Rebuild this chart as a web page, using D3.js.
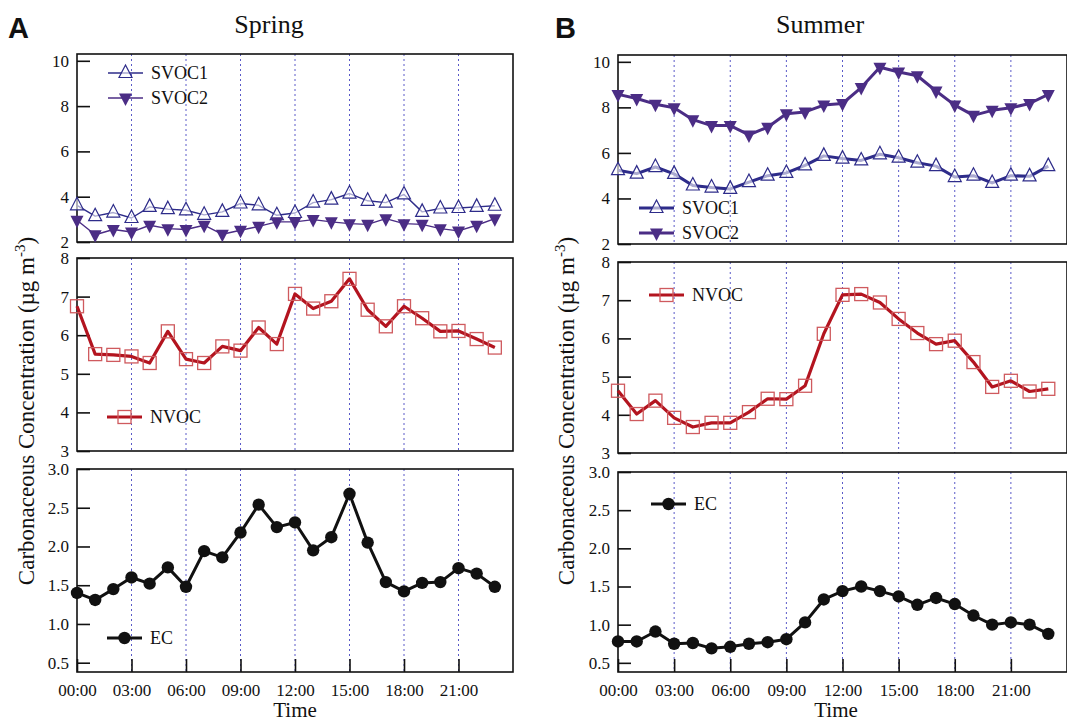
<!DOCTYPE html>
<html>
<head>
<meta charset="utf-8">
<script src="https://cdn.jsdelivr.net/npm/d3@7"></script>
<style>
  body { margin: 0; background: #fff; }
</style>
</head>
<body>
<div id="chart"></div>
<script>
// hours of the day (x categories) and tick labels
var hours = d3.range(24);
var timeTicks = [0, 3, 6, 9, 12, 15, 18, 21];
var timeLabels = ["00:00", "03:00", "06:00", "09:00", "12:00", "15:00", "18:00", "21:00"];

// Spring (A)
var springSVOC1 = [3.62, 3.14, 3.3, 3.06, 3.55, 3.45, 3.4, 3.2, 3.33, 3.7, 3.62, 3.18,
                   3.28, 3.74, 3.87, 4.14, 3.82, 3.74, 4.1, 3.33, 3.48, 3.5, 3.55, 3.6];
var springSVOC2 = [2.96, 2.32, 2.55, 2.44, 2.74, 2.59, 2.55, 2.74, 2.34, 2.52, 2.69, 2.89,
                   2.89, 2.99, 2.89, 2.81, 2.78, 3.03, 2.81, 2.78, 2.59, 2.49, 2.74, 3.03];
var springNVOC = [6.75, 5.51, 5.49, 5.45, 5.28, 6.1, 5.38, 5.28, 5.71, 5.6, 6.2, 5.77,
                  7.07, 6.69, 6.88, 7.46, 6.66, 6.23, 6.75, 6.44, 6.1, 6.11, 5.9, 5.68];
var springEC = [1.40, 1.31, 1.45, 1.60, 1.52, 1.73, 1.48, 1.94, 1.86, 2.18, 2.54, 2.25,
                2.31, 1.95, 2.12, 2.68, 2.05, 1.54, 1.42, 1.53, 1.54, 1.72, 1.65, 1.48];

// Summer (B)
var summerSVOC1 = [5.24, 5.09, 5.38, 5.08, 4.57, 4.48, 4.42, 4.72, 5.0, 5.12, 5.45, 5.87,
                   5.75, 5.67, 5.94, 5.79, 5.57, 5.42, 4.94, 5.0, 4.68, 5.0, 4.97, 5.42];
var summerSVOC2 = [8.57, 8.39, 8.14, 7.98, 7.46, 7.2, 7.2, 6.79, 7.13, 7.72, 7.8, 8.1,
                   8.17, 8.87, 9.76, 9.55, 9.39, 8.72, 8.1, 7.65, 7.87, 7.98, 8.17, 8.57];
var summerNVOC = [4.63, 4.02, 4.37, 3.92, 3.68, 3.79, 3.79, 4.07, 4.42, 4.41, 4.76, 6.12,
                  7.14, 7.16, 6.94, 6.51, 6.14, 5.85, 5.94, 5.38, 4.73, 4.89, 4.61, 4.68];
var summerEC = [0.78, 0.78, 0.91, 0.75, 0.76, 0.69, 0.71, 0.75, 0.77, 0.81, 1.03, 1.33,
                1.44, 1.50, 1.44, 1.37, 1.26, 1.35, 1.27, 1.12, 1.0, 1.03, 1.0, 0.88];

var svocTicks = [2, 4, 6, 8, 10];
var nvocTicks = [3, 4, 5, 6, 7, 8];
var ecTicks = [0.5, 1.0, 1.5, 2.0, 2.5, 3.0];

var width = 1067, height = 724;
var serif = "'Liberation Serif', 'Times New Roman', serif";

var svg = d3.select("#chart").append("svg")
  .attr("width", width)
  .attr("height", height);

// panel layout
var panels = [
  {
    letter: "A", title: "Spring", x0: 77, x1: 513, letterX: 8, titleX: 269, labelX: 34,
    rows: [[54, 242], [258, 451], [469, 672]],
    svoc1: springSVOC1, svoc2: springSVOC2, nvoc: springNVOC, ec: springEC,
    svocWidth: 1.4,
    legends: [
      {key: "svoc1", x: 108, y: 73}, {key: "svoc2", x: 108, y: 98},
      {key: "nvoc", x: 107, y: 417},
      {key: "ec", x: 107, y: 638}
    ]
  },
  {
    letter: "B", title: "Summer", x0: 618, x1: 1067, letterX: 555, titleX: 820, labelX: 574,
    rows: [[55, 244], [262, 453], [472, 672]],
    svoc1: summerSVOC1, svoc2: summerSVOC2, nvoc: summerNVOC, ec: summerEC,
    svocWidth: 3,
    legends: [
      {key: "svoc1", x: 639, y: 208}, {key: "svoc2", x: 639, y: 233},
      {key: "nvoc", x: 649, y: 295},
      {key: "ec", x: 651, y: 504}
    ]
  }
];

var styles = {
  svoc1: {label: "SVOC1", color: "#2e2c8a", marker: "triUp"},
  svoc2: {label: "SVOC2", color: "#4b2d85", marker: "triDown"},
  nvoc: {label: "NVOC", color: "#b3141f", marker: "square"},
  ec: {label: "EC", color: "#111111", marker: "circle"}
};

function drawMarker(g, type, color, cx, cy) {
  if (type === "circle") {
    g.append("circle").attr("cx", cx).attr("cy", cy).attr("r", 6.2).attr("fill", color);
  } else if (type === "square") {
    g.append("rect").attr("x", cx - 6.5).attr("y", cy - 6.5)
      .attr("width", 13).attr("height", 13)
      .attr("fill", "none").attr("stroke", "#cf5a5e").attr("stroke-width", 1.3);
  } else if (type === "triUp") {
    g.append("path")
      .attr("d", `M${cx},${cy - 8} L${cx + 6.5},${cy + 4.5} L${cx - 6.5},${cy + 4.5} Z`)
      .attr("fill", "#fff").attr("fill-opacity", 0.6)
      .attr("stroke", color).attr("stroke-width", 1.2);
  } else {
    g.append("path")
      .attr("d", `M${cx},${cy + 8} L${cx + 6.5},${cy - 4.5} L${cx - 6.5},${cy - 4.5} Z`)
      .attr("fill", color);
  }
}

panels.forEach(function(p) {
  var g = svg.append("g");

  var x = d3.scaleLinear().domain([0, 24]).range([p.x0, p.x1]);

  // letter and title
  g.append("text")
    .attr("x", p.letterX).attr("y", 38)
    .style("font-family", "'Liberation Sans', Arial, sans-serif")
    .style("font-weight", "bold").style("font-size", "29px")
    .attr("fill", "#111")
    .text(p.letter);

  g.append("text")
    .attr("x", p.titleX).attr("y", 33)
    .attr("text-anchor", "middle")
    .style("font-size", "26px")
    .text(p.title);

  // y scales, one per row
  var yScales = [
    d3.scaleLinear().domain([2, 10.3]).range([p.rows[0][1], p.rows[0][0]]),
    d3.scaleLinear().domain([3, 8]).range([p.rows[1][1], p.rows[1][0]]),
    d3.scaleLinear().domain([0.38, 3.0]).range([p.rows[2][1], p.rows[2][0]])
  ];
  var tickSets = [svocTicks, nvocTicks, ecTicks];
  var tickFormats = [d3.format("d"), d3.format("d"), d3.format(".1f")];

  yScales.forEach(function(y, i) {
    var top = p.rows[i][0], bot = p.rows[i][1];

    // dotted hour grid
    g.selectAll(null)
      .data(timeTicks.slice(1))
      .enter().append("line")
      .attr("x1", d => x(d)).attr("x2", d => x(d))
      .attr("y1", top).attr("y2", bot)
      .attr("stroke", "#5a5ac8")
      .attr("stroke-width", 1)
      .attr("stroke-dasharray", "2,3");

    // left axis with inward ticks
    var ax = g.append("g")
      .attr("transform", `translate(${p.x0},0)`)
      .call(d3.axisRight(y).tickValues(tickSets[i]).tickFormat(tickFormats[i])
        .tickSize(13).tickPadding(0));
    ax.select(".domain").remove();
    ax.selectAll("line").attr("stroke", "#111").attr("stroke-width", 1.6);
    ax.selectAll("text")
      .attr("x", -8).attr("text-anchor", "end")
      .style("font-size", "17px");

    // bottom row gets time axis
    if (i === 2) {
      var bx = g.append("g")
        .attr("transform", `translate(0,${bot})`)
        .call(d3.axisTop(x).tickValues(timeTicks).tickFormat((d, k) => timeLabels[k])
          .tickSize(13));
      bx.select(".domain").remove();
      bx.selectAll("line").attr("stroke", "#111").attr("stroke-width", 1.6);
      bx.selectAll("text")
        .attr("y", 24).attr("dy", "0")
        .style("font-size", "17px");

      g.append("text")
        .attr("x", (p.x0 + p.x0 + 436) / 2)
        .attr("y", 717)
        .attr("text-anchor", "middle")
        .style("font-size", "21px")
        .text("Time");
    }

    // frame
    g.append("rect")
      .attr("x", p.x0).attr("y", top)
      .attr("width", p.x1 - p.x0).attr("height", bot - top)
      .attr("fill", "none").attr("stroke", "#111").attr("stroke-width", 1.6);
  });

  // series
  var series = [
    {key: "svoc1", vals: p.svoc1, y: yScales[0], w: p.svocWidth},
    {key: "svoc2", vals: p.svoc2, y: yScales[0], w: p.svocWidth},
    {key: "nvoc", vals: p.nvoc, y: yScales[1], w: 3.2},
    {key: "ec", vals: p.ec, y: yScales[2], w: 3}
  ];

  series.forEach(function(s) {
    var st = styles[s.key];
    var line = d3.line().x((d, k) => x(hours[k])).y(d => s.y(d));
    g.append("path")
      .datum(s.vals)
      .attr("d", line)
      .attr("fill", "none")
      .attr("stroke", st.color)
      .attr("stroke-width", s.w)
      .attr("stroke-linejoin", "round");
    s.vals.forEach(function(v, k) {
      drawMarker(g, st.marker, st.color, x(hours[k]), s.y(v));
    });
  });

  // legends
  p.legends.forEach(function(it) {
    var st = styles[it.key];
    var lw = it.key.indexOf("svoc") === 0 ? p.svocWidth : 3;
    g.append("line")
      .attr("x1", it.x).attr("x2", it.x + 35)
      .attr("y1", it.y).attr("y2", it.y)
      .attr("stroke", st.color).attr("stroke-width", lw);
    drawMarker(g, st.marker, st.color, it.x + 17.5, it.y);
    g.append("text")
      .attr("x", it.x + 43).attr("y", it.y + 6)
      .style("font-size", "18px")
      .text(st.label);
  });

  // y axis label
  var lbl = g.append("text")
    .attr("transform", `translate(${p.labelX},411) rotate(-90)`)
    .attr("text-anchor", "middle")
    .style("font-size", "23px");
  lbl.append("tspan").text("Carbonaceous Concentration (\u00b5g m");
  lbl.append("tspan").attr("dy", -9).style("font-size", "15px").text("-3");
  lbl.append("tspan").attr("dy", 9).text(")");
});

// serif everywhere except the panel letters
svg.selectAll("text")
  .filter(function() { return ["A", "B"].indexOf(this.textContent) < 0; })
  .style("font-family", serif)
  .attr("fill", "#111");
</script>
</body>
</html>
